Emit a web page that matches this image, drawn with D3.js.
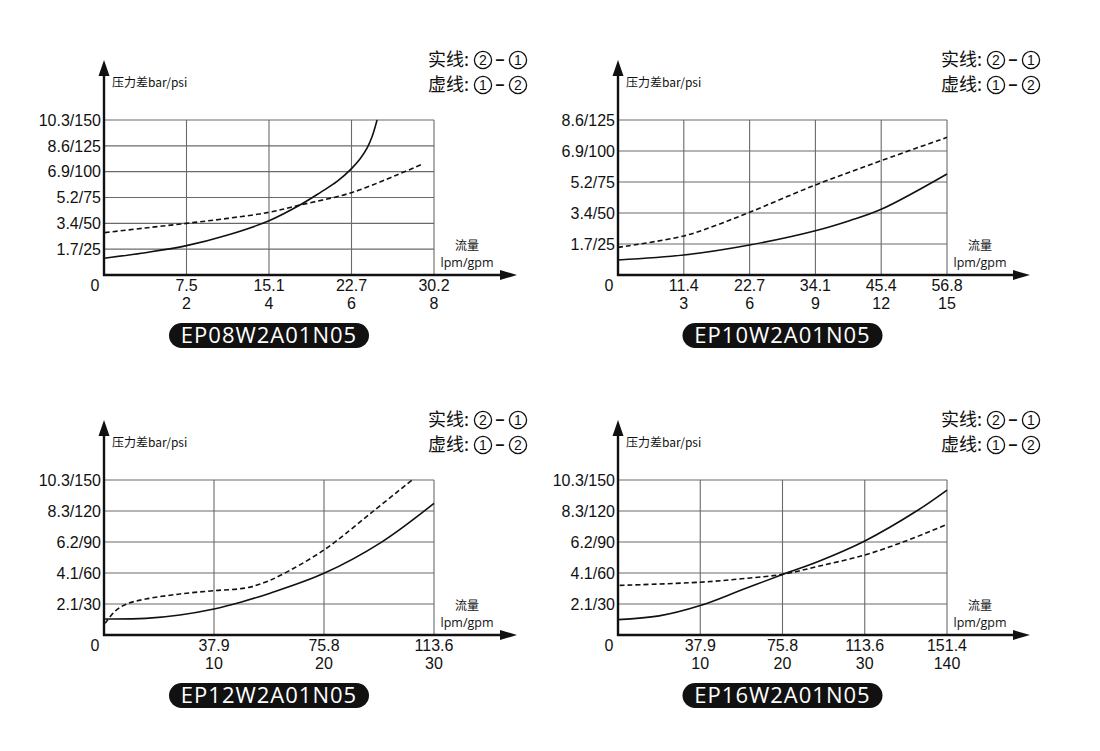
<!DOCTYPE html>
<html>
<head>
<meta charset="utf-8">
<script src="https://cdn.jsdelivr.net/npm/d3@7"></script>
<style>
  html, body { margin: 0; padding: 0; background: #fff; }
  svg { display: block; }
</style>
</head>
<body>
<svg id="chart" width="1100" height="751"></svg>
<script>
// ---------- DATA (x in gpm, y in psi) ----------
const titles = ["EP08W2A01N05", "EP10W2A01N05", "EP12W2A01N05", "EP16W2A01N05"];
const legendLabels = ["实线:", "虚线:"];
const legendFrom = ["2", "1"];
const legendTo = ["1", "2"];
const yAxisTitle = "压力差bar/psi";
const xAxisTitle1 = "流量";
const xAxisTitle2 = "lpm/gpm";

// Panel 1
const p1YTicks = [25, 50, 75, 100, 125, 150];
const p1YLabels = ["1.7/25", "3.4/50", "5.2/75", "6.9/100", "8.6/125", "10.3/150"];
const p1XTicks = [2, 4, 6, 8];
const p1XLpm = ["7.5", "15.1", "22.7", "30.2"];
const p1XGpm = ["2", "4", "6", "8"];
const p1Solid = [[0, 16.2], [1, 21.6], [2, 28.4], [3, 38.7], [4, 52.5], [4.75, 67.7], [5.25, 80], [5.65, 90.5], [6, 103], [6.2, 112], [6.38, 123], [6.5, 134], [6.62, 150]];
const p1Dashed = [[0.02, 41], [1, 45.5], [2, 50], [3, 54.8], [4, 60.7], [4.75, 67.7], [6, 79.7], [7.1, 96.8], [7.7, 107]];

// Panel 2
const p2YTicks = [25, 50, 75, 100, 125];
const p2YLabels = ["1.7/25", "3.4/50", "5.2/75", "6.9/100", "8.6/125"];
const p2XTicks = [3, 6, 9, 12, 15];
const p2XLpm = ["11.4", "22.7", "34.1", "45.4", "56.8"];
const p2XGpm = ["3", "6", "9", "12", "15"];
const p2Solid = [[0, 12.1], [3, 16.1], [6, 24.2], [9, 35.7], [10.55, 43.8], [12, 53], [15, 81.5]];
const p2Dashed = [[0, 22.3], [3, 31.5], [4.5, 40.3], [6, 50.6], [9, 72.6], [12, 92.2], [15, 111]];

// Panel 3
const p3YTicks = [30, 60, 90, 120, 150];
const p3YLabels = ["2.1/30", "4.1/60", "6.2/90", "8.3/120", "10.3/150"];
const p3XTicks = [10, 20, 30];
const p3XLpm = ["37.9", "75.8", "113.6"];
const p3XGpm = ["10", "20", "30"];
const p3Solid = [[0, 15.5], [3.8, 16.1], [6.9, 19.4], [10, 25.2], [12.5, 32], [15.1, 40.5], [20, 59.7], [25.2, 89.7], [30, 127.4]];
const p3Dashed = [[0.1, 11.3], [1, 23], [2.06, 30], [3.8, 34.8], [6.9, 39.7], [10, 42.9], [12.9, 45.5], [14.5, 50.5], [16, 57.5], [20, 82.3], [24.5, 120], [28, 150]];

// Panel 4
const p4YTicks = [30, 60, 90, 120, 150];
const p4YLabels = ["2.1/30", "4.1/60", "6.2/90", "8.3/120", "10.3/150"];
const p4XTicks = [10, 20, 30, 40];
const p4XLpm = ["37.9", "75.8", "113.6", "151.4"];
const p4XGpm = ["10", "20", "30", "140"];
const p4Solid = [[0, 14.9], [5, 18.5], [10, 28.5], [15, 43.5], [20, 58.5], [24.5, 71.6], [30, 91], [36.3, 120], [40, 140.3]];
const p4Dashed = [[0.2, 48], [10, 51.1], [15, 54.4], [20, 58.7], [24.5, 66.8], [30, 77.4], [35, 91], [40, 107]];

// ---------- LAYOUT ----------
const panels = [
  { title: titles[0], left: 104, right: 434, top: 120, bottom: 275, xMax: 8,  yMax: 150,
    yTicks: p1YTicks, yLabels: p1YLabels, xTicks: p1XTicks, xLpm: p1XLpm, xGpm: p1XGpm, solid: p1Solid, dashed: p1Dashed },
  { title: titles[1], left: 618, right: 947, top: 120, bottom: 275, xMax: 15, yMax: 125,
    yTicks: p2YTicks, yLabels: p2YLabels, xTicks: p2XTicks, xLpm: p2XLpm, xGpm: p2XGpm, solid: p2Solid, dashed: p2Dashed },
  { title: titles[2], left: 104, right: 434, top: 480, bottom: 635, xMax: 30, yMax: 150,
    yTicks: p3YTicks, yLabels: p3YLabels, xTicks: p3XTicks, xLpm: p3XLpm, xGpm: p3XGpm, solid: p3Solid, dashed: p3Dashed },
  { title: titles[3], left: 618, right: 947, top: 480, bottom: 635, xMax: 40, yMax: 150,
    yTicks: p4YTicks, yLabels: p4YLabels, xTicks: p4XTicks, xLpm: p4XLpm, xGpm: p4XGpm, solid: p4Solid, dashed: p4Dashed }
];

const svg = d3.select("#chart");
const numFont = "'Liberation Sans', Arial, sans-serif";
const badgeFont = "'Open Sans', 'DejaVu Sans', sans-serif";
const cjkFont = "'Noto Sans CJK SC', 'Noto Sans', sans-serif";

// legend row: label, circled digit, dash, circled digit
function legendRow(g, i, xr, yc) {
  g.append("text").attr("x", xr - 6).attr("y", yc).attr("dy", "0.36em")
    .attr("font-family", cjkFont).attr("font-size", 18).attr("fill", "#111").text(legendLabels[i]);
  const circ = (cx, digit) => {
    g.append("circle").attr("cx", cx).attr("cy", yc).attr("r", 8.6)
      .attr("fill", "none").attr("stroke", "#111").attr("stroke-width", 1.3);
    g.append("text").attr("x", cx).attr("y", yc).attr("dy", "0.36em").attr("text-anchor", "middle")
      .attr("font-family", numFont).attr("font-size", 14).attr("fill", "#111").text(digit);
  };
  circ(xr + 49, legendFrom[i]);
  g.append("text").attr("x", xr + 66).attr("y", yc).attr("dy", "0.33em").attr("text-anchor", "middle")
    .attr("font-family", numFont).attr("font-size", 16).attr("font-weight", "bold").attr("fill", "#111").text("–");
  circ(xr + 84, legendTo[i]);
}

panels.forEach(p => {
  const g = svg.append("g");
  const x = d3.scaleLinear().domain([0, p.xMax]).range([p.left, p.right]);
  const y = d3.scaleLinear().domain([0, p.yMax]).range([p.bottom, p.top]);

  // gridlines
  g.selectAll(".hg").data(p.yTicks).join("line")
    .attr("x1", p.left).attr("x2", p.right)
    .attr("y1", d => y(d)).attr("y2", d => y(d))
    .attr("stroke", "#6a6a6a").attr("stroke-width", 1.1);
  g.selectAll(".vg").data(p.xTicks).join("line")
    .attr("x1", d => x(d)).attr("x2", d => x(d))
    .attr("y1", p.top).attr("y2", p.bottom)
    .attr("stroke", "#6a6a6a").attr("stroke-width", 1.1);

  // axes lines with arrows
  const axTop = p.top - 60;
  const axRight = p.right + 83;
  g.append("line").attr("x1", p.left).attr("x2", p.left)
    .attr("y1", p.bottom + 1).attr("y2", axTop + 12)
    .attr("stroke", "#111").attr("stroke-width", 2.4);
  g.append("path")
    .attr("d", `M${p.left},${axTop} L${p.left - 5.5},${axTop + 16} L${p.left + 5.5},${axTop + 16} Z`)
    .attr("fill", "#111");
  g.append("line").attr("x1", p.left - 1).attr("x2", axRight - 12)
    .attr("y1", p.bottom).attr("y2", p.bottom)
    .attr("stroke", "#111").attr("stroke-width", 2.4);
  g.append("path")
    .attr("d", `M${axRight},${p.bottom} L${axRight - 17},${p.bottom - 5} L${axRight - 17},${p.bottom + 5} Z`)
    .attr("fill", "#111");

  // y tick labels
  g.selectAll(".yl").data(p.yTicks).join("text")
    .attr("x", p.left - 3).attr("y", d => y(d))
    .attr("dy", "0.36em")
    .attr("text-anchor", "end")
    .attr("font-family", numFont).attr("font-size", 16).attr("fill", "#111")
    .text((d, i) => p.yLabels[i]);
  // zero label
  g.append("text").attr("x", p.left - 9).attr("y", p.bottom + 10).attr("dy", "0.36em")
    .attr("text-anchor", "middle").attr("font-family", numFont).attr("font-size", 16).attr("fill", "#111")
    .text("0");
  // x tick labels
  g.selectAll(".xl1").data(p.xTicks).join("text")
    .attr("x", d => x(d)).attr("y", p.bottom + 10).attr("dy", "0.36em")
    .attr("text-anchor", "middle").attr("font-family", numFont).attr("font-size", 16).attr("fill", "#111")
    .text((d, i) => p.xLpm[i]);
  g.selectAll(".xl2").data(p.xTicks).join("text")
    .attr("x", d => x(d)).attr("y", p.bottom + 28).attr("dy", "0.36em")
    .attr("text-anchor", "middle").attr("font-family", numFont).attr("font-size", 16).attr("fill", "#111")
    .text((d, i) => p.xGpm[i]);

  // axis titles
  g.append("text").attr("x", p.left + 8).attr("y", axTop + 23).attr("dy", "0.36em")
    .attr("font-family", cjkFont).attr("font-size", 12).attr("fill", "#111").text(yAxisTitle);
  g.append("text").attr("x", p.right + 33).attr("y", p.bottom - 29).attr("dy", "0.36em")
    .attr("text-anchor", "middle").attr("font-family", cjkFont).attr("font-size", 12).attr("fill", "#111").text(xAxisTitle1);
  g.append("text").attr("x", p.right + 33).attr("y", p.bottom - 13).attr("dy", "0.36em")
    .attr("text-anchor", "middle").attr("font-family", badgeFont).attr("font-size", 12.5).attr("fill", "#111").text(xAxisTitle2);

  // legend
  legendRow(g, 0, p.right, p.top - 60);
  legendRow(g, 1, p.right, p.top - 35);

  // curves
  const line = d3.line().x(d => x(d[0])).y(d => y(d[1])).curve(d3.curveCatmullRom.alpha(0.5));
  g.append("path").datum(p.solid).attr("d", line)
    .attr("fill", "none").attr("stroke", "#111").attr("stroke-width", 1.6);
  g.append("path").datum(p.dashed).attr("d", line)
    .attr("fill", "none").attr("stroke", "#111").attr("stroke-width", 1.6)
    .attr("stroke-dasharray", "5,3");

  // title badge
  const cx = (p.left + p.right) / 2;
  const by = p.bottom + 48;
  g.append("rect").attr("x", cx - 100).attr("y", by).attr("width", 200).attr("height", 25)
    .attr("rx", 12.5).attr("fill", "#111");
  g.append("text").attr("x", cx).attr("y", by + 12.5).attr("dy", "0.36em")
    .attr("text-anchor", "middle").attr("font-family", badgeFont).attr("font-size", 22)
    .attr("letter-spacing", "1px").attr("fill", "#fff").text(p.title);
});
</script>
</body>
</html>
